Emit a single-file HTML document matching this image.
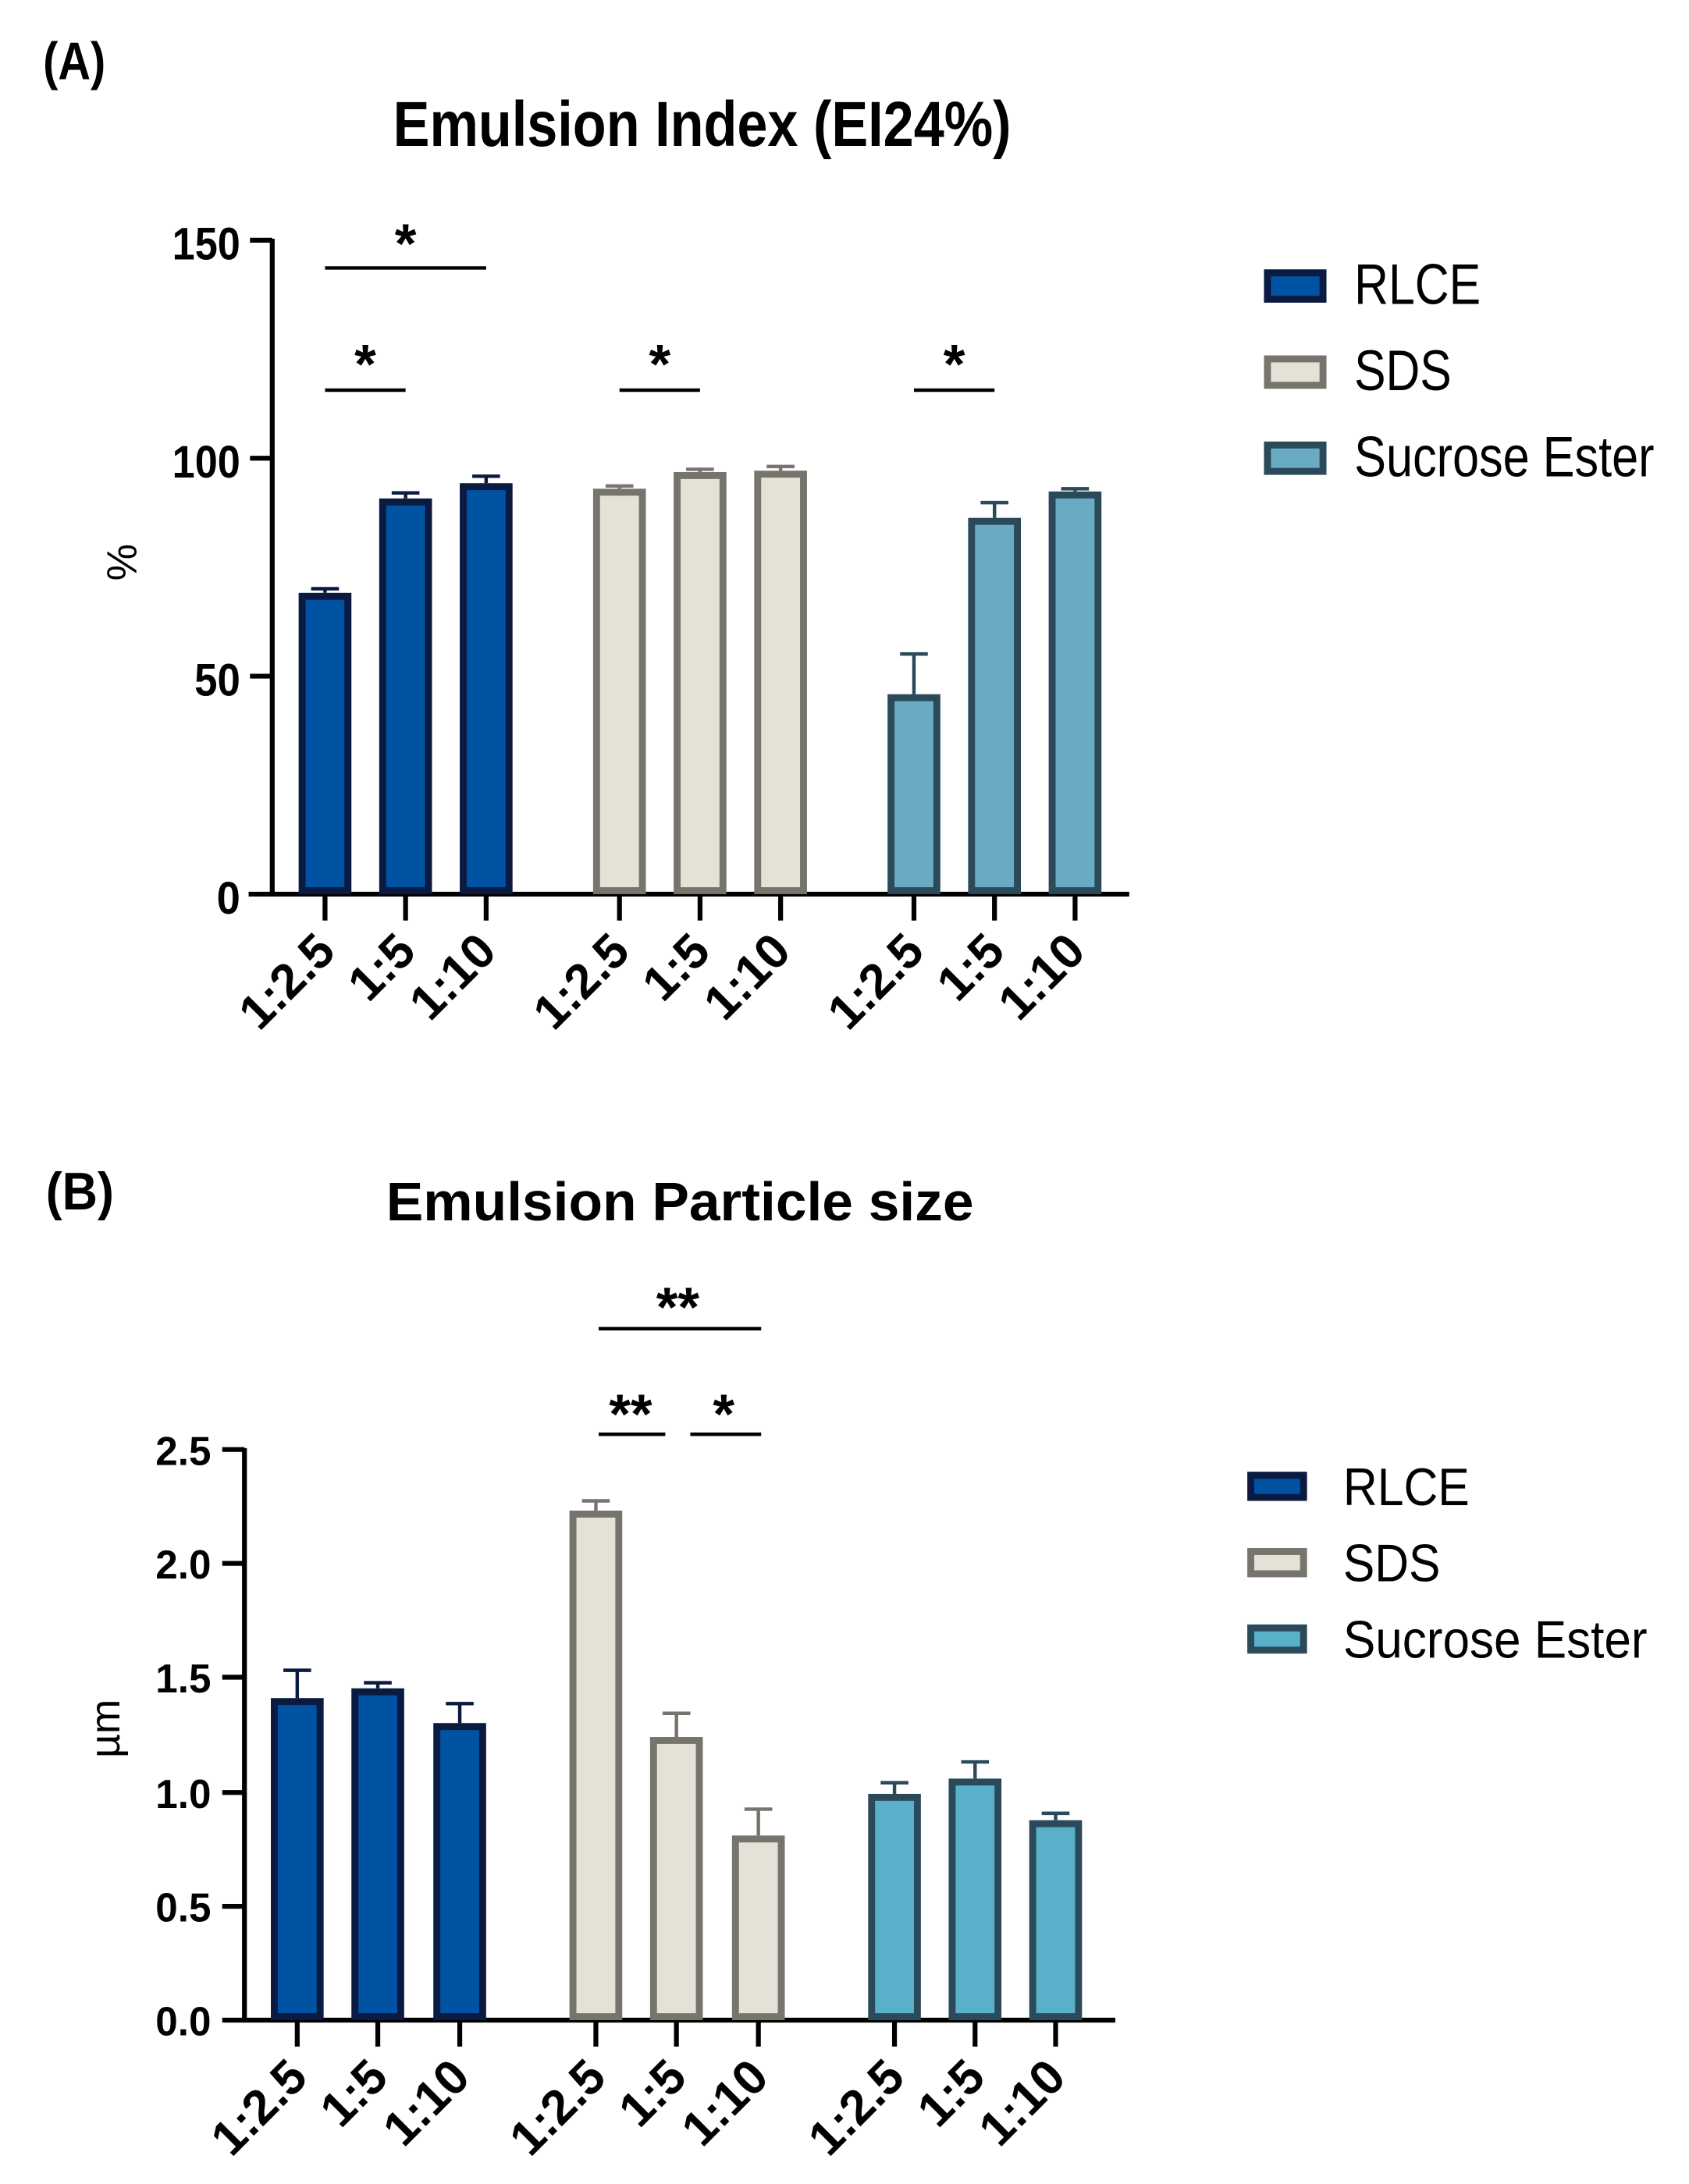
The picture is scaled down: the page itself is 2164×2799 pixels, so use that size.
<!DOCTYPE html>
<html><head><meta charset="utf-8"><style>
html,body{margin:0;padding:0;background:#fff;}
svg{display:block;}
text{font-family:"Liberation Sans",Arial,sans-serif;}
</style></head><body>
<svg width="2164" height="2799" viewBox="0 0 1216 1573" preserveAspectRatio="none" xmlns="http://www.w3.org/2000/svg">
<rect width="1216" height="1573" fill="#fff"/>

<!-- ===== Panel A ===== -->
<text x="31" y="57" font-size="38" font-weight="bold" textLength="45" lengthAdjust="spacingAndGlyphs">(A)</text>
<text x="283" y="105" font-size="46" font-weight="bold" textLength="445" lengthAdjust="spacingAndGlyphs">Emulsion Index (EI24%)</text>

<g stroke="#000" stroke-width="3.5" fill="none">
<line x1="196" y1="172" x2="196" y2="645"/>
<line x1="179" y1="644" x2="813" y2="644"/>
<line x1="180" y1="173" x2="196" y2="173"/>
<line x1="180" y1="330" x2="196" y2="330"/>
<line x1="180" y1="487" x2="196" y2="487"/>
<line x1="234" y1="644" x2="234" y2="663"/><line x1="292" y1="644" x2="292" y2="663"/><line x1="350" y1="644" x2="350" y2="663"/>
<line x1="446" y1="644" x2="446" y2="663"/><line x1="504" y1="644" x2="504" y2="663"/><line x1="562" y1="644" x2="562" y2="663"/>
<line x1="658" y1="644" x2="658" y2="663"/><line x1="716" y1="644" x2="716" y2="663"/><line x1="774" y1="644" x2="774" y2="663"/>
</g>
<g font-size="33" font-weight="bold" text-anchor="end">
<text x="173" y="187" textLength="49" lengthAdjust="spacingAndGlyphs">150</text>
<text x="173" y="344" textLength="49" lengthAdjust="spacingAndGlyphs">100</text>
<text x="173" y="501" textLength="33" lengthAdjust="spacingAndGlyphs">50</text>
<text x="173" y="658" textLength="17" lengthAdjust="spacingAndGlyphs">0</text>
</g>
<text transform="translate(98,405) rotate(-90)" font-size="30" text-anchor="middle">%</text>

<g stroke-width="5">
<g fill="#0052a3" stroke="#0a1a40">
<rect x="217.5" y="429.5" width="33" height="212"/>
<rect x="275.5" y="361.5" width="33" height="280"/>
<rect x="333.5" y="350.5" width="33" height="291"/>
</g>
<g fill="#e6e1d6" stroke="#77746e">
<rect x="429.5" y="354.5" width="33" height="287"/>
<rect x="487.5" y="342.5" width="33" height="299"/>
<rect x="545.5" y="341.5" width="33" height="300"/>
</g>
<g fill="#6aabc4" stroke="#2a4a5a">
<rect x="641.5" y="502.5" width="33" height="139"/>
<rect x="699.5" y="375.5" width="33" height="266"/>
<rect x="757.5" y="356.5" width="33" height="285"/>
</g>
</g>
<g stroke-width="2.5" fill="none">
<g stroke="#0a1a40">
<path d="M234 427V424M224 424H244"/>
<path d="M292 359V355M282 355H302"/>
<path d="M350 348V343M340 343H360"/>
</g>
<g stroke="#77746e">
<path d="M446 352V350M436 350H456"/>
<path d="M504 340V338M494 338H514"/>
<path d="M562 339V336M552 336H572"/>
</g>
<g stroke="#2a4a5a">
<path d="M658 500V471M648 471H668"/>
<path d="M716 373V362M706 362H726"/>
<path d="M774 354V352M764 352H784"/>
</g>
</g>
<g stroke="#000" stroke-width="2.5">
<line x1="234" y1="193" x2="350" y2="193"/>
<line x1="234" y1="281" x2="292" y2="281"/>
<line x1="446" y1="281" x2="504" y2="281"/>
<line x1="658" y1="281" x2="716" y2="281"/>
</g>
<g font-size="40" font-weight="bold" text-anchor="middle">
<text x="292" y="189">*</text>
<text x="263" y="276">*</text>
<text x="475" y="276">*</text>
<text x="687" y="276">*</text>
</g>
<g font-size="35" font-weight="bold" text-anchor="end">
<text transform="translate(243,687) rotate(-45)">1:2.5</text>
<text transform="translate(301,687) rotate(-45)">1:5</text>
<text transform="translate(359,687) rotate(-45)">1:10</text>
<text transform="translate(455,687) rotate(-45)">1:2.5</text>
<text transform="translate(513,687) rotate(-45)">1:5</text>
<text transform="translate(571,687) rotate(-45)">1:10</text>
<text transform="translate(667,687) rotate(-45)">1:2.5</text>
<text transform="translate(725,687) rotate(-45)">1:5</text>
<text transform="translate(783,687) rotate(-45)">1:10</text>
</g>
<g stroke-width="5">
<rect x="912.5" y="196.5" width="40" height="19" fill="#0052a3" stroke="#0a1a40"/>
<rect x="912.5" y="258.5" width="40" height="19" fill="#e6e1d6" stroke="#77746e"/>
<rect x="912.5" y="320.5" width="40" height="19" fill="#6aabc4" stroke="#2a4a5a"/>
</g>
<g font-size="41">
<text x="975" y="219" textLength="91" lengthAdjust="spacingAndGlyphs">RLCE</text>
<text x="975" y="281" textLength="70" lengthAdjust="spacingAndGlyphs">SDS</text>
<text x="975" y="343" textLength="216" lengthAdjust="spacingAndGlyphs">Sucrose Ester</text>
</g>

<!-- ===== Panel B ===== -->
<text x="33" y="871" font-size="38" font-weight="bold" textLength="49" lengthAdjust="spacingAndGlyphs">(B)</text>
<text x="278" y="879" font-size="39" font-weight="bold" textLength="423" lengthAdjust="spacingAndGlyphs">Emulsion Particle size</text>

<g stroke="#000" stroke-width="3.5" fill="none">
<line x1="176" y1="1043" x2="176" y2="1456"/>
<line x1="160" y1="1455" x2="803" y2="1455"/>
<line x1="160" y1="1044" x2="176" y2="1044"/>
<line x1="160" y1="1126" x2="176" y2="1126"/>
<line x1="160" y1="1208" x2="176" y2="1208"/>
<line x1="160" y1="1291" x2="176" y2="1291"/>
<line x1="160" y1="1373" x2="176" y2="1373"/>
<line x1="214" y1="1455" x2="214" y2="1474"/><line x1="272" y1="1455" x2="272" y2="1474"/><line x1="331" y1="1455" x2="331" y2="1474"/>
<line x1="429" y1="1455" x2="429" y2="1474"/><line x1="487" y1="1455" x2="487" y2="1474"/><line x1="546" y1="1455" x2="546" y2="1474"/>
<line x1="644" y1="1455" x2="644" y2="1474"/><line x1="702" y1="1455" x2="702" y2="1474"/><line x1="760" y1="1455" x2="760" y2="1474"/>
</g>
<g font-size="29" font-weight="bold" text-anchor="end">
<text x="152" y="1055" textLength="40" lengthAdjust="spacingAndGlyphs">2.5</text>
<text x="152" y="1137" textLength="40" lengthAdjust="spacingAndGlyphs">2.0</text>
<text x="152" y="1219" textLength="40" lengthAdjust="spacingAndGlyphs">1.5</text>
<text x="152" y="1302" textLength="40" lengthAdjust="spacingAndGlyphs">1.0</text>
<text x="152" y="1384" textLength="40" lengthAdjust="spacingAndGlyphs">0.5</text>
<text x="152" y="1466" textLength="40" lengthAdjust="spacingAndGlyphs">0.0</text>
</g>
<text transform="translate(86,1245) rotate(-90)" font-size="30" text-anchor="middle">µm</text>

<g stroke-width="5">
<g fill="#0052a3" stroke="#0a1a40">
<rect x="197.5" y="1225.5" width="33" height="227"/>
<rect x="255.5" y="1218.5" width="33" height="234"/>
<rect x="314.5" y="1243.5" width="33" height="209"/>
</g>
<g fill="#e6e1d6" stroke="#77746e">
<rect x="412.5" y="1090.5" width="33" height="362"/>
<rect x="470.5" y="1253.5" width="33" height="199"/>
<rect x="529.5" y="1324.5" width="33" height="128"/>
</g>
<g fill="#5ab0c8" stroke="#2a4a5a">
<rect x="627.5" y="1294.5" width="33" height="158"/>
<rect x="685.5" y="1283.5" width="33" height="169"/>
<rect x="743.5" y="1313.5" width="33" height="139"/>
</g>
</g>
<g stroke-width="2.5" fill="none">
<g stroke="#0a1a40">
<path d="M214 1223V1203M204 1203H224"/>
<path d="M272 1216V1212M262 1212H282"/>
<path d="M331 1241V1227M321 1227H341"/>
</g>
<g stroke="#77746e">
<path d="M429 1088V1081M419 1081H439"/>
<path d="M487 1251V1234M477 1234H497"/>
<path d="M546 1322V1303M536 1303H556"/>
</g>
<g stroke="#2a4a5a">
<path d="M644 1292V1284M634 1284H654"/>
<path d="M702 1281V1269M692 1269H712"/>
<path d="M760 1311V1306M750 1306H770"/>
</g>
</g>
<g stroke="#000" stroke-width="2.5">
<line x1="431" y1="957" x2="548" y2="957"/>
<line x1="431" y1="1033" x2="479" y2="1033"/>
<line x1="497" y1="1033" x2="548" y2="1033"/>
</g>
<g font-size="40" font-weight="bold" text-anchor="middle">
<text x="488" y="955">**</text>
<text x="454" y="1032">**</text>
<text x="521" y="1032">*</text>
</g>
<g font-size="35" font-weight="bold" text-anchor="end">
<text transform="translate(223,1498) rotate(-45)">1:2.5</text>
<text transform="translate(281,1498) rotate(-45)">1:5</text>
<text transform="translate(340,1498) rotate(-45)">1:10</text>
<text transform="translate(438,1498) rotate(-45)">1:2.5</text>
<text transform="translate(496,1498) rotate(-45)">1:5</text>
<text transform="translate(555,1498) rotate(-45)">1:10</text>
<text transform="translate(653,1498) rotate(-45)">1:2.5</text>
<text transform="translate(711,1498) rotate(-45)">1:5</text>
<text transform="translate(769,1498) rotate(-45)">1:10</text>
</g>
<g stroke-width="5">
<rect x="900.5" y="1062.5" width="38" height="16" fill="#0052a3" stroke="#0a1a40"/>
<rect x="900.5" y="1117.5" width="38" height="16" fill="#e6e1d6" stroke="#77746e"/>
<rect x="900.5" y="1172.5" width="38" height="16" fill="#5ab0c8" stroke="#2a4a5a"/>
</g>
<g font-size="38">
<text x="967" y="1084" textLength="91" lengthAdjust="spacingAndGlyphs">RLCE</text>
<text x="967" y="1139" textLength="70" lengthAdjust="spacingAndGlyphs">SDS</text>
<text x="967" y="1194" textLength="219" lengthAdjust="spacingAndGlyphs">Sucrose Ester</text>
</g>
</svg>
</body></html>
